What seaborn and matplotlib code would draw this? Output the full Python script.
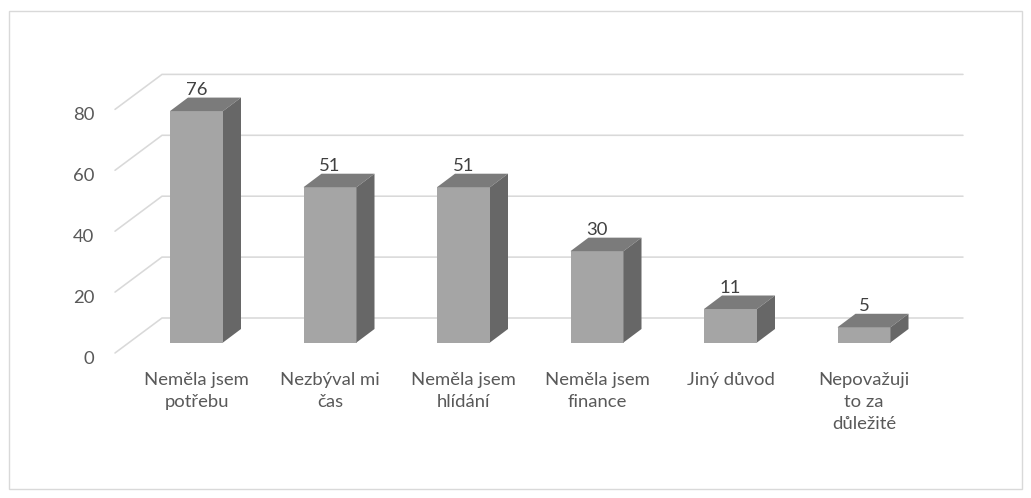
import matplotlib
matplotlib.use("Agg")
import matplotlib.pyplot as plt
from matplotlib.patches import Polygon, Rectangle
from matplotlib.transforms import ScaledTranslation
import seaborn as sns
import pandas as pd

categories = ["Neměla jsem\npotřebu", "Nezbýval mi\nčas", "Neměla jsem\nhlídání",
              "Neměla jsem\nfinance", "Jiný důvod", "Nepovažuji\nto za\ndůležité"]
values = [76, 51, 51, 30, 11, 5]
y_ticks = [0, 20, 40, 60, 80]

W, H = 1031, 498
PX_X = 133.5      # pixels per category
PX_Y = 3.045      # pixels per value unit
X0, Y0 = 196.5, 342.5  # pixel of first category centre / value zero
L, R, T, B = 115, 963, 60, 353

sns.set_theme(style="white")
plt.rcParams["font.family"] = ["Lato", "DejaVu Sans"]

fig = plt.figure(figsize=(W / 100, H / 100), dpi=100, facecolor="white")
ax = fig.add_axes([L / W, 1 - B / H, (R - L) / W, (B - T) / H])
df = pd.DataFrame({"category": categories, "value": values})
sns.barplot(data=df, x="category", y="value", color="#A5A5A5", saturation=1,
            width=53 / PX_X, ax=ax, zorder=3)

ax.set_xlim((L - X0) / PX_X, (R - X0) / PX_X)
ax.set_ylim((Y0 - B) / PX_Y, (Y0 - T) / PX_Y)
ax.set_xlabel("")
ax.set_ylabel("")
for s in ax.spines.values():
    s.set_visible(False)
ax.patch.set_alpha(0)

# perspective depth of the bars and of the chart floor/wall, in data units
bar_dx, bar_dy = 18 / PX_X, 13.5 / PX_Y
wall_dx = 47 / PX_X
front_dy = -(353 - Y0) / PX_Y
back_dy = (Y0 - 318) / PX_Y
xl, xr = ax.get_xlim()
grid = "#D9D9D9"
for t in y_ticks:
    ax.plot([xl, xl + wall_dx, xr], [t + front_dy, t + back_dy, t + back_dy],
            color=grid, lw=1.15, zorder=1, clip_on=False, solid_joinstyle="miter")

for p in list(ax.patches):
    p.set_linewidth(0)
    x0, x1, h = p.get_x(), p.get_x() + p.get_width(), p.get_height()
    ax.add_patch(Polygon([(x0, h), (x1, h), (x1 + bar_dx, h + bar_dy), (x0 + bar_dx, h + bar_dy)],
                         closed=True, fc="#7B7B7B", ec="none", zorder=3))
    ax.add_patch(Polygon([(x1, 0), (x1 + bar_dx, bar_dy), (x1 + bar_dx, h + bar_dy), (x1, h)],
                         closed=True, fc="#676767", ec="none", zorder=3))

ax.bar_label(ax.containers[0], labels=[str(v) for v in values], padding=9.5,
             fontsize=13.3, color="#404040", zorder=5)

ax.set_yticks(y_ticks)
ax.set_yticklabels([str(t) for t in y_ticks])
ax.tick_params(axis="y", length=0, pad=15, labelsize=13.3, labelcolor="#595959")
ax.tick_params(axis="x", length=0, pad=14, labelsize=13.3, labelcolor="#595959")
shift = ScaledTranslation(0, -10.5 / 72, fig.dpi_scale_trans)
for lab in ax.get_yticklabels():
    lab.set_transform(lab.get_transform() + shift)
for lab in ax.get_xticklabels():
    lab.set_linespacing(1.45)

fig.add_artist(Rectangle((8.5 / W, 1 - 488.5 / H), (1022 - 8.5) / W, (488.5 - 10.5) / H,
                         transform=fig.transFigure, fill=False, ec="#D9D9D9", lw=1.0))

fig.savefig("out.png", dpi=100)
